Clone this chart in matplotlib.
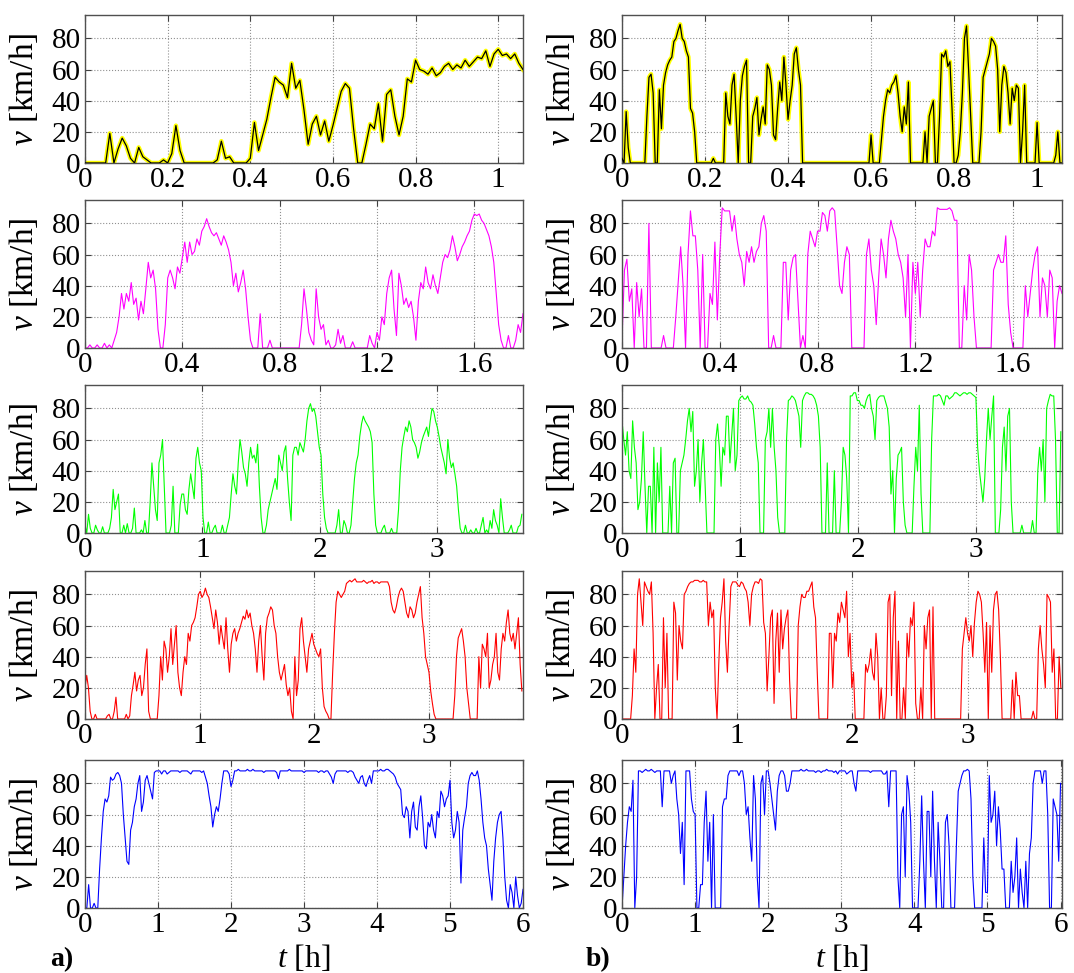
import numpy as np
import matplotlib
matplotlib.use("Agg")
import matplotlib.pyplot as plt

plt.rcParams["font.family"] = "Liberation Serif"
plt.rcParams["mathtext.fontset"] = "custom"
plt.rcParams["mathtext.it"] = "Liberation Serif:italic"
plt.rcParams["mathtext.rm"] = "Liberation Serif"

# ---- speed profiles v [km/h], uniformly sampled over each record ----
# column a)
v_a1 = [0, 0, 0, 0, 0, 0, 19, 0, 9, 16,
        11, 3, 0, 10, 4, 2, 0, 0, 0, 2,
        0, 6, 24, 8, 0, 0, 0, 0, 0, 0,
        0, 0, 2, 14, 3, 4, 0, 0, 0, 0,
        3, 26, 8, 18, 28, 42, 55, 52, 50, 42,
        64, 48, 53, 34, 12, 25, 30, 18, 27, 14,
        24, 35, 46, 51, 48, 22, 0, 0, 12, 25,
        22, 38, 14, 44, 47, 30, 18, 30, 54, 52,
        66, 60, 59, 57, 61, 56, 58, 62, 64, 60,
        63, 61, 66, 62, 65, 68, 67, 72, 62, 70,
        73, 69, 70, 67, 70, 64, 60]
v_a2 = [0, 0, 2, 0, 0, 2, 0, 0, 3, 0,
        2, 0, 5, 10, 20, 35, 25, 35, 30, 42,
        28, 32, 18, 30, 22, 38, 55, 45, 50, 38,
        12, 0, 0, 15, 45, 50, 45, 38, 52, 48,
        58, 68, 55, 68, 60, 62, 70, 66, 75, 78,
        83, 78, 74, 72, 74, 70, 66, 72, 68, 63,
        55, 40, 48, 36, 42, 50, 38, 20, 5, 0,
        0, 0, 22, 0, 0, 0, 5, 0, 0, 0,
        0, 0, 0, 0, 0, 0, 0, 0, 0, 15,
        38, 25, 10, 5, 2, 38, 20, 12, 15, 2,
        5, 0, 0, 2, 12, 3, 8, 0, 0, 0,
        4, 0, 0, 0, 0, 0, 0, 8, 3, 0,
        10, 5, 20, 15, 35, 45, 50, 25, 8, 48,
        40, 28, 32, 26, 30, 20, 5, 30, 42, 38,
        52, 42, 38, 47, 40, 35, 45, 55, 60, 58,
        63, 72, 65, 56, 60, 65, 68, 72, 75, 82,
        86, 85, 86, 82, 80, 76, 72, 65, 55, 35,
        15, 5, 0, 0, 8, 0, 0, 5, 15, 10,
        22]
v_a3 = [5, 0, 12, 3, 0, 0, 5, 2, 0, 0,
        4, 0, 0, 0, 3, 10, 28, 15, 20, 25,
        0, 0, 5, 0, 6, 0, 0, 3, 16, 0,
        0, 0, 2, 0, 8, 0, 0, 20, 45, 30,
        15, 8, 45, 50, 60, 30, 0, 0, 0, 5,
        30, 0, 0, 0, 18, 25, 25, 15, 12, 28,
        38, 30, 22, 48, 55, 45, 40, 10, 0, 0,
        7, 0, 0, 3, 5, 0, 0, 0, 5, 0,
        0, 5, 10, 25, 38, 30, 25, 45, 60, 52,
        42, 38, 30, 45, 55, 48, 50, 45, 57, 30,
        10, 0, 0, 5, 15, 20, 25, 30, 35, 28,
        50, 45, 40, 52, 56, 35, 20, 8, 50, 55,
        55, 50, 58, 55, 52, 60, 72, 80, 83, 78,
        80, 75, 65, 55, 50, 25, 10, 3, 0, 0,
        0, 0, 0, 5, 15, 0, 0, 8, 5, 0,
        0, 5, 20, 35, 45, 50, 62, 70, 75, 72,
        70, 68, 65, 58, 25, 5, 0, 0, 0, 3,
        5, 0, 0, 0, 3, 0, 0, 0, 15, 40,
        55, 62, 68, 65, 72, 68, 60, 58, 55, 48,
        52, 58, 62, 65, 68, 62, 72, 80, 78, 72,
        68, 62, 55, 50, 45, 38, 60, 48, 42, 45,
        38, 30, 15, 3, 0, 0, 5, 0, 0, 2,
        0, 0, 3, 0, 0, 5, 10, 0, 2, 0,
        8, 3, 15, 8, 5, 0, 22, 10, 0, 0,
        0, 2, 5, 0, 0, 0, 4, 5, 12]
v_a4 = [20, 28, 20, 5, 0, 0, 3, 0, 0, 0,
        0, 0, 0, 2, 3, 0, 0, 5, 14, 0,
        0, 0, 0, 0, 3, 0, 2, 15, 22, 30,
        18, 25, 28, 15, 20, 35, 45, 5, 0, 0,
        0, 0, 0, 15, 40, 25, 50, 45, 30, 40,
        58, 35, 48, 60, 30, 20, 15, 30, 40, 35,
        55, 50, 60, 62, 65, 72, 80, 82, 78, 80,
        84, 80, 78, 72, 65, 58, 70, 62, 48, 60,
        52, 45, 65, 45, 30, 48, 55, 58, 50, 55,
        58, 62, 66, 64, 70, 65, 68, 60, 55, 45,
        30, 50, 60, 40, 25, 55, 65, 68, 72, 70,
        60, 55, 40, 30, 25, 30, 35, 22, 15, 20,
        5, 0, 40, 15, 25, 58, 65, 50, 40, 30,
        45, 50, 55, 48, 45, 42, 40, 45, 20, 8,
        5, 3, 0, 0, 30, 55, 75, 82, 80, 78,
        80, 82, 87, 88, 89, 88, 89, 90, 88, 88,
        88, 88, 89, 88, 87, 88, 88, 89, 87, 88,
        88, 87, 88, 88, 88, 88, 88, 85, 75, 70,
        68, 72, 78, 82, 84, 82, 75, 68, 65, 72,
        70, 65, 68, 75, 80, 85, 65, 55, 40, 35,
        30, 18, 10, 3, 0, 0, 0, 0, 0, 0,
        0, 0, 0, 0, 0, 15, 40, 52, 55, 58,
        50, 40, 20, 10, 0, 0, 0, 0, 0, 40,
        20, 48, 45, 40, 55, 20, 25, 35, 40, 55,
        30, 25, 45, 55, 50, 62, 70, 55, 50, 55,
        45, 55, 65, 35, 18]
v_a5 = [0, 0, 15, 0, 0, 3, 0, 0, 25, 45,
        62, 70, 68, 72, 84, 82, 83, 86, 87, 85,
        80, 60, 45, 30, 28, 50, 55, 65, 70, 80,
        85, 62, 68, 82, 85, 80, 75, 70, 87, 88,
        88, 88, 86, 88, 88, 86, 87, 88, 88, 88,
        88, 88, 87, 88, 88, 88, 88, 87, 86, 88,
        88, 88, 88, 88, 87, 88, 84, 80, 72, 65,
        52, 60, 65, 62, 70, 80, 88, 88, 88, 86,
        78, 82, 88, 88, 89, 88, 88, 88, 88, 89,
        88, 88, 89, 88, 88, 88, 88, 88, 87, 88,
        88, 88, 88, 88, 88, 87, 83, 88, 88, 88,
        88, 88, 89, 88, 88, 88, 88, 88, 88, 88,
        87, 88, 88, 88, 88, 88, 88, 88, 87, 88,
        88, 87, 88, 88, 86, 84, 80, 86, 88, 88,
        88, 88, 88, 88, 87, 88, 88, 87, 84, 82,
        80, 84, 85, 80, 78, 82, 85, 80, 88, 88,
        88, 88, 89, 88, 88, 89, 89, 88, 87, 86,
        84, 80, 78, 76, 60, 58, 65, 62, 45, 62,
        68, 52, 50, 65, 72, 58, 40, 38, 55, 52,
        60, 50, 45, 62, 58, 75, 72, 65, 70, 72,
        82, 55, 45, 50, 62, 55, 16, 50, 58, 65,
        80, 85, 87, 85, 85, 88, 82, 70, 55, 45,
        40, 25, 15, 5, 30, 45, 55, 60, 62, 45,
        20, 5, 0, 15, 10, 0, 20, 8, 0, 3,
        12]

# column b)
v_b1 = [3, 0, 33, 10, 0, 0, 0, 0, 0, 0,
        0, 0, 30, 55, 57, 45, 0, 0, 47, 22,
        50, 58, 63, 66, 68, 78, 80, 85, 89, 80,
        78, 72, 68, 35, 32, 20, 0, 0, 0, 0,
        0, 0, 0, 0, 3, 0, 0, 0, 0, 0,
        45, 30, 25, 50, 57, 30, 0, 40, 56, 62,
        66, 0, 0, 30, 35, 42, 18, 28, 36, 25,
        63, 60, 50, 18, 15, 35, 52, 40, 68, 50,
        28, 40, 50, 70, 74, 60, 50, 0, 0, 0,
        0, 0, 0, 0, 0, 0, 0, 0, 0, 0,
        0, 0, 0, 0, 0, 0, 0, 0, 0, 0,
        0, 0, 0, 0, 0, 0, 0, 0, 0, 0,
        18, 0, 0, 0, 0, 15, 30, 40, 47, 45,
        50, 52, 56, 45, 30, 20, 36, 25, 52, 0,
        0, 0, 0, 0, 0, 0, 20, 0, 30, 35,
        40, 0, 0, 30, 70, 68, 72, 62, 65, 35,
        0, 0, 5, 20, 45, 80, 88, 60, 30, 0,
        0, 0, 0, 20, 55, 60, 65, 70, 80, 78,
        75, 60, 20, 50, 62, 58, 45, 25, 48, 40,
        50, 48, 0, 20, 50, 0, 0, 0, 0, 0,
        26, 0, 0, 0, 0, 0, 0, 0, 0, 5,
        20, 0, 0]
v_b2 = [5, 50, 57, 30, 38, 0, 42, 20, 38, 0,
        0, 80, 0, 0, 0, 0, 0, 8, 0, 0,
        0, 0, 20, 42, 65, 40, 0, 60, 88, 72,
        72, 50, 0, 60, 0, 0, 35, 28, 68, 18,
        60, 90, 88, 88, 88, 75, 85, 70, 60, 55,
        40, 62, 55, 65, 55, 62, 65, 80, 85, 75,
        0, 0, 8, 0, 0, 0, 55, 55, 18, 50,
        58, 60, 30, 0, 8, 0, 60, 75, 70, 65,
        75, 75, 87, 85, 75, 88, 90, 88, 65, 40,
        35, 55, 65, 60, 0, 0, 0, 0, 0, 0,
        60, 70, 50, 40, 15, 45, 70, 60, 45, 70,
        82, 75, 70, 60, 55, 45, 20, 60, 0, 55,
        35, 55, 20, 50, 70, 65, 65, 75, 72, 90,
        89, 89, 89, 89, 90, 88, 82, 82, 0, 0,
        40, 18, 60, 50, 20, 0, 0, 0, 0, 0,
        0, 0, 50, 55, 60, 55, 55, 72, 28, 10,
        0, 0, 0, 0, 0, 40, 20, 35, 50, 60,
        65, 20, 45, 40, 20, 50, 45, 0, 30, 40,
        35]
v_b3 = [72, 60, 50, 65, 40, 35, 72, 55, 45, 15,
        20, 35, 65, 30, 0, 30, 30, 0, 55, 0,
        45, 20, 55, 0, 0, 0, 0, 30, 0, 45,
        48, 0, 0, 40, 45, 50, 60, 72, 80, 65,
        78, 30, 40, 60, 20, 45, 60, 30, 0, 0,
        0, 0, 0, 60, 70, 55, 30, 55, 50, 75,
        75, 45, 62, 80, 40, 50, 85, 87, 88, 86,
        86, 88, 85, 84, 82, 70, 55, 45, 0, 0,
        0, 60, 65, 80, 55, 80, 55, 40, 10, 0,
        0, 0, 0, 60, 85, 86, 88, 87, 85, 80,
        75, 55, 85, 88, 90, 90, 89, 89, 88, 86,
        82, 75, 55, 0, 0, 0, 45, 0, 0, 0,
        40, 0, 0, 0, 20, 55, 50, 35, 0, 88,
        88, 90, 90, 85, 85, 82, 82, 80, 85, 88,
        89, 80, 75, 60, 85, 87, 88, 88, 88, 84,
        80, 68, 25, 40, 0, 35, 50, 52, 55, 20,
        5, 0, 0, 0, 0, 30, 55, 40, 82, 25,
        0, 0, 0, 0, 0, 60, 88, 88, 88, 89,
        88, 85, 82, 88, 88, 86, 87, 88, 90, 90,
        89, 88, 89, 90, 90, 89, 90, 90, 89, 88,
        87, 55, 40, 30, 20, 35, 60, 80, 60, 75,
        88, 0, 0, 0, 15, 55, 68, 40, 75, 80,
        20, 0, 0, 0, 0, 0, 5, 0, 0, 0,
        0, 0, 8, 0, 0, 40, 55, 40, 60, 20,
        80, 85, 89, 88, 88, 60, 0, 0, 65]
v_b4 = [0, 0, 0, 0, 0, 0, 15, 45, 30, 80,
        90, 75, 60, 88, 85, 82, 80, 88, 55, 0,
        20, 35, 0, 0, 65, 20, 55, 0, 0, 0,
        75, 68, 25, 60, 50, 45, 80, 82, 85, 87,
        88, 88, 89, 89, 89, 88, 88, 89, 88, 88,
        60, 75, 65, 70, 20, 0, 35, 65, 75, 90,
        50, 30, 60, 85, 88, 88, 88, 86, 85, 88,
        87, 84, 82, 75, 60, 80, 85, 88, 88, 87,
        90, 89, 62, 55, 18, 40, 65, 70, 10, 50,
        68, 30, 70, 45, 58, 65, 70, 25, 0, 0,
        0, 0, 60, 72, 80, 78, 78, 82, 82, 85,
        88, 72, 65, 30, 0, 0, 0, 0, 0, 0,
        55, 55, 20, 55, 50, 68, 62, 75, 70, 65,
        82, 40, 55, 20, 30, 0, 0, 0, 0, 0,
        0, 35, 30, 35, 45, 30, 25, 55, 40, 0,
        20, 0, 0, 15, 75, 80, 15, 65, 82, 0,
        50, 0, 0, 20, 0, 55, 40, 65, 60, 75,
        10, 0, 0, 20, 0, 60, 45, 65, 70, 0,
        72, 0, 0, 0, 0, 0, 0, 0, 0, 0,
        0, 0, 0, 0, 0, 0, 0, 45, 55, 65,
        55, 50, 60, 40, 62, 75, 82, 80, 75, 55,
        30, 62, 0, 60, 30, 70, 80, 82, 70, 40,
        0, 0, 0, 0, 0, 0, 25, 0, 30, 15,
        15, 0, 0, 0, 0, 0, 0, 0, 5, 0,
        0, 45, 60, 45, 35, 20, 80, 78, 75, 30,
        45, 0, 0, 40, 20]
v_b5 = [0, 20, 40, 55, 65, 62, 82, 0, 20, 88,
        88, 87, 88, 89, 88, 88, 89, 88, 87, 88,
        88, 88, 65, 88, 88, 88, 88, 80, 85, 88,
        70, 60, 35, 55, 15, 88, 88, 88, 70, 62,
        60, 0, 0, 15, 15, 55, 75, 30, 55, 0,
        60, 0, 0, 0, 0, 65, 70, 70, 85, 88,
        88, 88, 88, 88, 85, 88, 88, 80, 60, 65,
        45, 30, 85, 70, 20, 0, 80, 85, 60, 88,
        88, 80, 70, 60, 50, 75, 85, 88, 88, 85,
        75, 75, 80, 88, 88, 88, 88, 88, 89, 88,
        88, 89, 88, 88, 88, 88, 87, 88, 88, 87,
        88, 88, 89, 88, 88, 88, 87, 88, 86, 88,
        88, 88, 88, 86, 87, 88, 88, 80, 75, 88,
        88, 88, 88, 88, 88, 88, 87, 88, 88, 88,
        88, 88, 88, 86, 86, 88, 65, 88, 88, 88,
        88, 20, 0, 60, 65, 20, 85, 75, 55, 0,
        0, 0, 0, 30, 72, 30, 0, 62, 62, 20,
        75, 30, 0, 55, 30, 0, 0, 55, 60, 40,
        0, 0, 0, 40, 75, 80, 85, 88, 88, 89,
        88, 70, 20, 0, 0, 0, 0, 0, 45, 10,
        10, 85, 55, 60, 75, 40, 65, 50, 25, 25,
        0, 0, 0, 30, 10, 20, 45, 0, 25, 10,
        0, 30, 0, 35, 45, 80, 88, 88, 88, 88,
        80, 88, 88, 60, 0, 0, 70, 65, 60, 30,
        80]

# record durations [h]
t_end = [1.06, 1.8, 3.72, 3.81, 6.0]

xticks_rows = [[0, 0.2, 0.4, 0.6, 0.8, 1],
               [0, 0.4, 0.8, 1.2, 1.6],
               [0, 1, 2, 3],
               [0, 1, 2, 3],
               [0, 1, 2, 3, 4, 5, 6]]
xlim_rows = [1.06, 1.8, 3.73, 3.82, 6.0]
yticks = [0, 20, 40, 60, 80]
colors = ["#ffff00", "#ff00ff", "#00ff00", "#ff0000", "#0000ff"]

cols = [[v_a1, v_a2, v_a3, v_a4, v_a5],
        [v_b1, v_b2, v_b3, v_b4, v_b5]]

W, H = 1074, 973
fig = plt.figure(figsize=(W / 100, H / 100), dpi=100, facecolor="white")

col_left = [85, 622]
col_width = [438, 440]
row_bottom = [163, 348, 533, 719, 908]
row_h = 148

for c in range(2):
    for r in range(5):
        ax = fig.add_axes([col_left[c] / W, 1 - row_bottom[r] / H,
                           col_width[c] / W, row_h / H])
        v = np.array(cols[c][r], dtype=float)
        t = np.linspace(0, t_end[r], len(v))
        if r == 0:
            ax.plot(t, v, color=colors[0], lw=3.2, zorder=2)
            ax.plot(t, v, color="black", lw=0.9, zorder=3)
        else:
            ax.plot(t, v, color=colors[r], lw=0.8, zorder=2)
        xmax = xlim_rows[r] if not (c == 1 and r == 4) else 6.02
        ax.set_xlim(0, xmax)
        ax.set_ylim(0, 95)
        ax.set_xticks(xticks_rows[r])
        ax.set_xticklabels([f"{x:g}" for x in xticks_rows[r]])
        ax.set_yticks(yticks)
        ax.grid(True, color="#909090", linestyle=":", linewidth=0.8)
        ax.tick_params(direction="in", top=True, right=True, length=4,
                       labelsize=21, pad=3, color="#404040")
        for s in ax.spines.values():
            s.set_color("#505050")
            s.set_linewidth(1.0)
        ax.set_ylabel("$v$ [km/h]", fontsize=24)
        ax.yaxis.set_label_coords(-0.103, 0.5)
        if r == 4:
            ax.set_xlabel("$t$ [h]", fontsize=23)
            ax.xaxis.set_label_coords(0.5, -0.235)

fig.text(62 / W, 1 - 960 / H, "a)", fontsize=20, fontweight="bold",
         ha="center", va="center")
fig.text(598 / W, 1 - 960 / H, "b)", fontsize=20, fontweight="bold",
         ha="center", va="center")

fig.savefig("out.png", dpi=100, facecolor="white")
